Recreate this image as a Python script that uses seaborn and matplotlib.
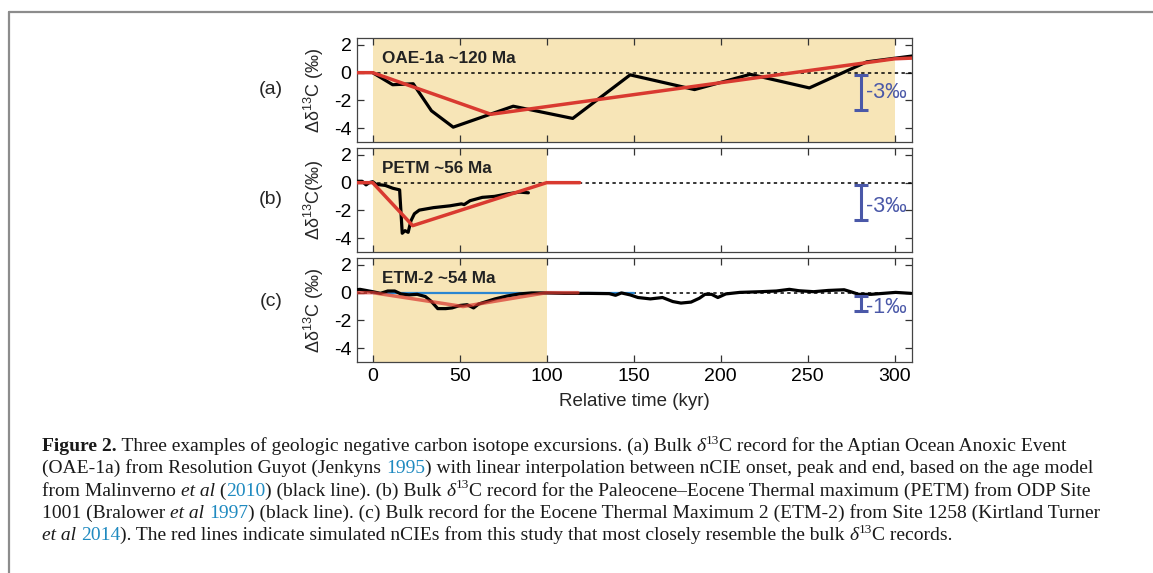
import numpy as np
import pandas as pd
import matplotlib
matplotlib.use("Agg")
import matplotlib.pyplot as plt
import seaborn as sns
from matplotlib.lines import Line2D
from matplotlib.font_manager import FontProperties

# ---------------- data ----------------
oae_t = [0, 11.5, 23.3, 33.8, 46.3, 80.8, 115, 148, 185, 217, 251, 284, 310]
oae_d = [0, -0.87, -0.8, -2.75, -3.93, -2.42, -3.3, -0.16, -1.22, -0.12, -1.1, 0.78, 1.2]
oae_sim_t = [-10, 0, 68, 300, 310]
oae_sim_d = [0, 0, -3.0, 1.0, 1.05]

petm_t = [-10.6, -6, -3.8, -2, 0, 2, 7.3, 11.5, 15.5, 17, 18.6, 20.4, 22, 24, 26.8, 35,
          44.4, 51, 52.6, 56, 63, 70, 77, 84.4, 89.5]
petm_d = [0.1, 0.1, -0.16, 0, 0.07, -0.12, -0.2, -0.4, -0.52, -3.65, -3.46, -3.58, -2.75,
          -2.24, -1.98, -1.8, -1.67, -1.53, -1.58, -1.3, -1.06, -0.99, -0.82, -0.68, -0.73]
petm_sim_t = [-10, 0, 23, 100, 119]
petm_sim_d = [0, 0, -3.1, 0, 0]

etm_t = [-10.6, -7.3, -3.8, 0, 4.5, 8.7, 12.7, 16.2, 20.9, 25.6, 30.3, 33.8, 37.4, 42, 45.6,
         50.3, 54.3, 58, 60.9, 64.4, 70.3, 77.3, 84.4, 91.4, 100, 110, 124, 136, 139.6, 143,
         148, 152.5, 159.6, 166.6, 172.5, 177.2, 183, 187.8, 191, 194.8, 198.4, 203, 211,
         223, 232, 239.5, 245, 253.5, 261.8, 271, 274.7, 279.4, 286.5, 293.5, 300.6, 309.5]
etm_d = [0.19, 0.24, 0.16, 0.07, -0.05, 0.12, 0.12, -0.09, -0.16, -0.12, -0.28, -0.64, -1.15,
         -1.15, -1.1, -0.92, -0.87, -1.1, -0.82, -0.68, -0.45, -0.24, -0.09, -0.02, -0.02,
         -0.05, -0.05, -0.07, -0.19, -0.02, -0.16, -0.35, -0.45, -0.35, -0.64, -0.75, -0.68,
         -0.4, -0.12, -0.12, -0.35, -0.09, 0.02, 0.07, 0.12, 0.24, 0.14, 0.07, 0.16, 0.21,
         0.07, -0.12, -0.12, -0.05, 0.02, -0.05]
etm_sim_t = [-10, 0, 52, 100, 118]
etm_sim_d = [0, 0, -1.0, 0, 0]
etm_blue_t = [0, 150]
etm_blue_d = [0, 0]

panel_tags = ["(a)", "(b)", "(c)"]
panel_titles = ["OAE-1a ~120 Ma", "PETM ~56 Ma", "ETM-2 ~54 Ma"]
shade_ends = [300, 100, 100]
scale_labels = ["-3‰", "-3‰", "-1‰"]
scale_spans = [(-0.15, -2.7), (-0.15, -2.7), (-0.22, -1.3)]
scale_text_y = [-1.45, -1.75, -1.1]
ylabels = ["Δδ$^{\\mathregular{13}}$C (‰)", "Δδ$^{\\mathregular{13}}$C(‰)", "Δδ$^{\\mathregular{13}}$C (‰)"]
x_ticks = [0, 50, 100, 150, 200, 250, 300]
y_ticks = [-4, -2, 0, 2]

caption_lines = [
    [("Figure 2.", "b"), (" Three examples of geologic negative carbon isotope excursions. (a) Bulk ", "n"),
     ("δ", "i"), ("13", "sup"), ("C record for the Aptian Ocean Anoxic Event", "n")],
    [("(OAE-1a) from Resolution Guyot (Jenkyns ", "n"), ("1995", "blue"),
     (") with linear interpolation between nCIE onset, peak and end, based on the age model", "n")],
    [("from Malinverno ", "n"), ("et al", "i"), (" (", "n"), ("2010", "blue"),
     (") (black line). (b) Bulk ", "n"), ("δ", "i"), ("13", "sup"),
     ("C record for the Paleocene–Eocene Thermal maximum (PETM) from ODP Site", "n")],
    [("1001 (Bralower ", "n"), ("et al", "i"), (" ", "n"), ("1997", "blue"),
     (") (black line). (c) Bulk record for the Eocene Thermal Maximum 2 (ETM-2) from Site 1258 (Kirtland Turner", "n")],
    [("et al", "i"), (" ", "n"), ("2014", "blue"),
     ("). The red lines indicate simulated nCIEs from this study that most closely resemble the bulk ", "n"),
     ("δ", "i"), ("13", "sup"), ("C records.", "n")],
]

# ---------------- style ----------------
sns.set_style("ticks")
plt.rcParams["font.family"] = ["Liberation Sans", "DejaVu Sans"]
plt.rcParams["axes.unicode_minus"] = False
plt.rcParams["mathtext.fontset"] = "custom"
plt.rcParams["mathtext.rm"] = "Liberation Sans"
plt.rcParams["mathtext.it"] = "Liberation Sans:italic"
plt.rcParams["mathtext.bf"] = "Liberation Sans:bold"

W, H = 1153, 573
fig = plt.figure(figsize=(W / 100, H / 100), dpi=100)
fig.patch.set_facecolor("white")

BEIGE = "#F7E5B7"
RED = "#D93A30"
BLUE_BAR = "#4A58A8"
BLUE_LINE = "#2B86D1"

left_px, right_px = 357, 912
tops = [38, 148, 258]
hgt = 104

records = [(oae_t, oae_d, oae_sim_t, oae_sim_d),
           (petm_t, petm_d, petm_sim_t, petm_sim_d),
           (etm_t, etm_d, etm_sim_t, etm_sim_d)]

for i in range(3):
    top = tops[i]
    ax = fig.add_axes([left_px / W, 1 - (top + hgt) / H, (right_px - left_px) / W, hgt / H])
    ax.set_xlim(-9, 310)
    ax.set_ylim(-5, 2.5)
    ax.axvspan(0, shade_ends[i], color=BEIGE, lw=0, zorder=0)
    ax.axhline(0, color="black", ls=(0, (2.2, 2.2)), lw=1.1, zorder=1)

    t, d, st, sd = records[i]
    df_rec = pd.DataFrame({"t": t, "d": d})
    df_sim = pd.DataFrame({"t": st, "d": sd})
    if i == 2:
        df_blue = pd.DataFrame({"t": etm_blue_t, "d": etm_blue_d})
        sns.lineplot(data=df_blue, x="t", y="d", ax=ax, color=BLUE_LINE, lw=1.6,
                     sort=False, estimator=None, zorder=2)
    sns.lineplot(data=df_rec, x="t", y="d", ax=ax, color="black", lw=2.3,
                 sort=False, estimator=None, zorder=3)
    sns.lineplot(data=df_sim, x="t", y="d", ax=ax, color=RED, lw=2.5,
                 alpha=0.72 if i == 2 else 1.0, sort=False, estimator=None, zorder=4)

    # scale bar
    y0, y1 = scale_spans[i]
    ax.errorbar([280.5], [(y0 + y1) / 2], yerr=[[(y0 - y1) / 2], [(y0 - y1) / 2]],
                fmt="none", ecolor=BLUE_BAR, elinewidth=2.2, capsize=4.8, capthick=2.2, zorder=5)
    ax.text(283.3, scale_text_y[i], scale_labels[i], color=BLUE_BAR, fontsize=15.5,
            ha="left", va="center", zorder=6)

    ax.text(5.5, 1.05, panel_titles[i], fontsize=12.3, fontweight="bold", color="#222222",
            ha="left", va="center", zorder=6)
    ax.text(-0.155, 0.5 if i < 2 else 0.58, panel_tags[i], transform=ax.transAxes,
            fontsize=14, ha="center", va="center")

    ax.set_xticks(x_ticks)
    ax.set_yticks(y_ticks)
    ax.tick_params(direction="in", top=True, right=True, length=5, width=0.9,
                   labelsize=14, colors="#333333", labelcolor="black", pad=4)
    if i < 2:
        ax.set_xticklabels([])
        ax.set_xlabel("")
    else:
        ax.set_xlabel("Relative time (kyr)", fontsize=13.5, labelpad=6)
    ax.set_ylabel(ylabels[i], fontsize=13)
    ax.yaxis.set_label_coords(-0.055, 0.5)
    for sp in ax.spines.values():
        sp.set_color("#444444")
        sp.set_linewidth(0.9)

# ---------------- frame ----------------
fig.add_artist(Line2D([9 / W, 9 / W], [0, 1 - 12 / H], transform=fig.transFigure,
                      color="#8c8c8c", lw=1.6))
fig.add_artist(Line2D([9 / W, 1], [1 - 12 / H, 1 - 12 / H], transform=fig.transFigure,
                      color="#8c8c8c", lw=1.6))

# ---------------- caption ----------------
fig.canvas.draw()
rend = fig.canvas.get_renderer()
SERIF = "Liberation Serif"
CAP_BLUE = "#1F8AC0"


def fprops(kind, size):
    if kind == "b":
        return FontProperties(family=SERIF, weight="bold", size=size)
    if kind == "i":
        return FontProperties(family=SERIF, style="italic", size=size)
    if kind == "sup":
        return FontProperties(family=SERIF, size=size * 0.68)
    return FontProperties(family=SERIF, size=size)


def width_of(s, fp):
    t1 = fig.text(0, 0, "x" + s + "x", fontproperties=fp)
    w1 = t1.get_window_extent(rend).width
    t1.remove()
    t2 = fig.text(0, 0, "xx", fontproperties=fp)
    w2 = t2.get_window_extent(rend).width
    t2.remove()
    return w1 - w2


def line_width(segs, size):
    return sum(width_of(s, fprops(k, size)) for s, k in segs)


base_size = 10.0
w_base = line_width(caption_lines[1], base_size)
cap_size = base_size * 1050.0 / w_base

x_start = 42
baselines = [451, 473.3, 495.6, 517.9, 540.2]
for segs, by in zip(caption_lines, baselines):
    x = x_start
    for s, k in segs:
        fp = fprops(k, cap_size)
        yy = by
        if k == "sup":
            yy = by - cap_size * 100 / 72 * 0.38
        color = CAP_BLUE if k == "blue" else "#1a1a1a"
        fig.text(x / W, 1 - yy / H, s, fontproperties=fp, color=color,
                 ha="left", va="baseline")
        x += width_of(s, fp)

fig.savefig("out.png", dpi=100, facecolor="white")
